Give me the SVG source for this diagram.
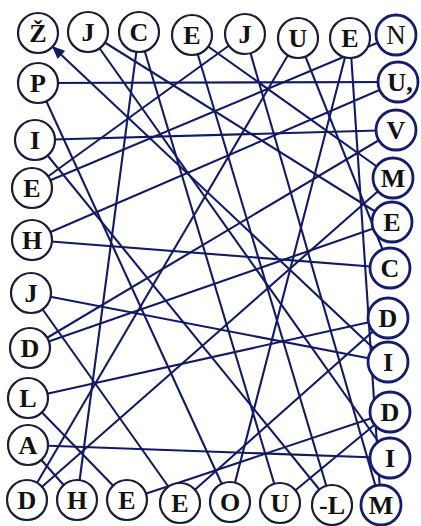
<svg xmlns="http://www.w3.org/2000/svg" width="421" height="526" viewBox="0 0 421 526">
<style>
.c{fill:#fff;stroke:#1b1b3a;stroke-width:2.2}
.cb{fill:#fff;stroke:#141c6b;stroke-width:2.8}
.t{font-family:"Liberation Serif",serif;font-weight:bold;font-size:26px;fill:#111;text-anchor:middle}
.tn{font-family:"Liberation Serif",serif;font-weight:normal;font-size:27px;fill:#111;text-anchor:middle}
#connectors line{stroke:#121a66;stroke-width:2.1}
</style>
<defs>
<marker id="ah" viewBox="0 0 13 11" refX="12" refY="5.5" markerWidth="13" markerHeight="11" markerUnits="userSpaceOnUse" orient="auto">
<path d="M0,0 L13,5.5 L0,11 z" fill="#121a66"/>
</marker>
</defs>
<rect width="421" height="526" fill="#fff"/>
<g id="connectors">
<line x1="38" y1="83" x2="398" y2="82"/>
<line x1="35" y1="140" x2="396" y2="130"/>
<line x1="32" y1="240" x2="390" y2="268"/>
<line x1="31" y1="293" x2="388" y2="362"/>
<line x1="28" y1="445" x2="390" y2="458"/>
<line x1="28" y1="445" x2="77" y2="500"/>
<line x1="28" y1="398" x2="388" y2="318"/>
<line x1="28" y1="398" x2="127" y2="500"/>
<line x1="350" y1="38" x2="381" y2="505"/>
<line x1="245" y1="34" x2="32" y2="188"/>
<line x1="390" y1="412" x2="280" y2="503"/>
<line x1="390" y1="412" x2="127" y2="500"/>
<line x1="192" y1="35" x2="393" y2="178"/>
<line x1="88" y1="32" x2="392" y2="222"/>
<line x1="139" y1="32" x2="77" y2="500"/>
<line x1="32" y1="188" x2="396" y2="35"/>
<line x1="32" y1="240" x2="398" y2="82"/>
<line x1="30" y1="348" x2="392" y2="222"/>
<line x1="30" y1="348" x2="396" y2="130"/>
<line x1="27" y1="500" x2="298" y2="38"/>
<line x1="27" y1="500" x2="393" y2="178"/>
<line x1="38" y1="83" x2="230" y2="502"/>
<line x1="35" y1="140" x2="332" y2="505"/>
<line x1="31" y1="293" x2="180" y2="503"/>
<line x1="88" y1="32" x2="390" y2="458"/>
<line x1="139" y1="32" x2="280" y2="503"/>
<line x1="192" y1="35" x2="332" y2="505"/>
<line x1="245" y1="34" x2="381" y2="505"/>
<line x1="298" y1="38" x2="390" y2="268"/>
<line x1="350" y1="38" x2="230" y2="502"/>
<line x1="180" y1="503" x2="388" y2="318"/>
<line x1="374.4" y1="349.2" x2="52.6" y2="46.7" marker-end="url(#ah)"/>
</g>
<g id="n-t1"><circle class="c" cx="38" cy="33" r="20"/><text class="t" x="38" y="42">Ž</text></g>
<g id="n-t2"><circle class="c" cx="88" cy="32" r="20"/><text class="t" x="88" y="41">J</text></g>
<g id="n-t3"><circle class="c" cx="139" cy="32" r="20"/><text class="t" x="139" y="41">C</text></g>
<g id="n-t4"><circle class="c" cx="192" cy="35" r="20"/><text class="t" x="192" y="44">E</text></g>
<g id="n-t5"><circle class="c" cx="245" cy="34" r="20"/><text class="t" x="245" y="43">J</text></g>
<g id="n-t6"><circle class="c" cx="298" cy="38" r="20"/><text class="t" x="298" y="47">U</text></g>
<g id="n-t7"><circle class="c" cx="350" cy="38" r="20"/><text class="t" x="350" y="47">E</text></g>
<g id="n-t8"><circle class="cb" cx="396" cy="35" r="20"/><text class="tn" x="396" y="44">N</text></g>
<g id="n-r1"><circle class="cb" cx="398" cy="82" r="20"/><text class="t" x="400" y="91">U,</text></g>
<g id="n-r2"><circle class="cb" cx="396" cy="130" r="20"/><text class="t" x="396" y="139">V</text></g>
<g id="n-r3"><circle class="cb" cx="393" cy="178" r="20"/><text class="t" x="393" y="187">M</text></g>
<g id="n-r4"><circle class="cb" cx="392" cy="222" r="20"/><text class="t" x="392" y="231">E</text></g>
<g id="n-r5"><circle class="cb" cx="390" cy="268" r="20"/><text class="t" x="390" y="277">C</text></g>
<g id="n-r6"><circle class="cb" cx="388" cy="318" r="20"/><text class="t" x="388" y="327">D</text></g>
<g id="n-r7"><circle class="cb" cx="388" cy="362" r="20"/><text class="t" x="388" y="371">I</text></g>
<g id="n-r8"><circle class="cb" cx="390" cy="412" r="20"/><text class="t" x="390" y="421">D</text></g>
<g id="n-r9"><circle class="cb" cx="390" cy="458" r="20"/><text class="t" x="390" y="467">I</text></g>
<g id="n-b8"><circle class="cb" cx="381" cy="505" r="20"/><text class="t" x="381" y="514">M</text></g>
<g id="n-b7"><circle class="c" cx="332" cy="505" r="20"/><text class="t" x="332" y="514">-L</text></g>
<g id="n-b6"><circle class="c" cx="280" cy="503" r="20"/><text class="t" x="280" y="512">U</text></g>
<g id="n-b5"><circle class="c" cx="230" cy="502" r="20"/><text class="t" x="230" y="511">O</text></g>
<g id="n-b4"><circle class="c" cx="180" cy="503" r="20"/><text class="t" x="180" y="512">E</text></g>
<g id="n-b3"><circle class="c" cx="127" cy="500" r="20"/><text class="t" x="127" y="509">E</text></g>
<g id="n-b2"><circle class="c" cx="77" cy="500" r="20"/><text class="t" x="77" y="509">H</text></g>
<g id="n-b1"><circle class="c" cx="27" cy="500" r="20"/><text class="t" x="27" y="509">D</text></g>
<g id="n-l1"><circle class="c" cx="38" cy="83" r="20"/><text class="t" x="38" y="92">P</text></g>
<g id="n-l2"><circle class="c" cx="35" cy="140" r="20"/><text class="t" x="35" y="149">I</text></g>
<g id="n-l3"><circle class="c" cx="32" cy="188" r="20"/><text class="t" x="32" y="197">E</text></g>
<g id="n-l4"><circle class="c" cx="32" cy="240" r="20"/><text class="t" x="32" y="249">H</text></g>
<g id="n-l5"><circle class="c" cx="31" cy="293" r="20"/><text class="t" x="31" y="302">J</text></g>
<g id="n-l6"><circle class="c" cx="30" cy="348" r="20"/><text class="t" x="30" y="357">D</text></g>
<g id="n-l7"><circle class="c" cx="28" cy="398" r="20"/><text class="t" x="28" y="407">L</text></g>
<g id="n-l8"><circle class="c" cx="28" cy="445" r="20"/><text class="t" x="28" y="454">A</text></g>
</svg>
